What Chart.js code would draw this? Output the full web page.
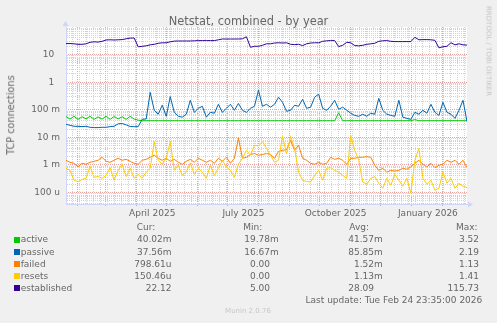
<!DOCTYPE html>
<html>
<head>
<meta charset="utf-8">
<title>Netstat, combined - by year</title>
<script src="https://cdn.jsdelivr.net/npm/chart.js@4.4.1/dist/chart.umd.min.js"></script>
<style>
  html, body { margin: 0; padding: 0; background: #F0F0F0; }
  #graph { position: relative; width: 497px; height: 323px; background: #F0F0F0; overflow: hidden;
           font-family: 'DejaVu Sans', sans-serif; color: #666666; }
  #graph canvas { position: absolute; left: 0; top: 0; }
  .txt { position: absolute; white-space: pre; line-height: 1; }
  .box { position: absolute; width: 6px; height: 6px; }
</style>
</head>
<body>
<div id="graph"><canvas id="chart" width="497" height="323"></canvas></div>
<script>
// ---- graph text ----
const graphTitle = 'Netstat, combined - by year';
const verticalLabel = 'TCP connections';
const lastUpdate = 'Last update: Tue Feb 24 23:35:00 2026';
const watermark = 'RRDTOOL / TOBI OETIKER';
const footer = 'Munin 2.0.76';

// ---- series ----
const seriesNames = ['active', 'passive', 'failed', 'resets', 'established'];
const seriesColors = ['#00CC00', '#0066B3', '#FF8000', '#FFCC00', '#330099'];

// samples: first one on day 20 of 2025 (days counted from 2025-01-01), one every 4 days
const firstDay = 20;
const sampleStep = 4;

const active = [
  0.057, 0.046, 0.058, 0.045, 0.056, 0.047, 0.058, 0.045, 0.055, 0.046,
  0.059, 0.045, 0.057, 0.047, 0.056, 0.045, 0.058, 0.046, 0.042, 0.0402,
  0.0402, 0.0402, 0.0402, 0.0402, 0.0402, 0.0402, 0.0402, 0.0402, 0.0402, 0.0402,
  0.0402, 0.0402, 0.0402, 0.0402, 0.0402, 0.0402, 0.0402, 0.0402, 0.0402, 0.0402,
  0.0402, 0.0402, 0.0402, 0.0402, 0.0402, 0.0402, 0.0402, 0.0402, 0.0402, 0.0402,
  0.0402, 0.0402, 0.0402, 0.0402, 0.0402, 0.0402, 0.0402, 0.0402, 0.0402, 0.0402,
  0.0402, 0.0402, 0.0402, 0.0402, 0.0402, 0.0402, 0.0402, 0.0402, 0.078, 0.0402,
  0.0402, 0.0402, 0.0402, 0.0402, 0.0402, 0.0402, 0.0402, 0.0402, 0.0402, 0.0402,
  0.0402, 0.0402, 0.0402, 0.0402, 0.0402, 0.0402, 0.0402, 0.044, 0.0402, 0.0402,
  0.0402, 0.0402, 0.0402, 0.0402, 0.0402, 0.0402, 0.0402, 0.0402, 0.0402, 0.0402,
  0.04002
];

const passive = [
  0.0298, 0.0274, 0.0252, 0.0252, 0.0245, 0.0252, 0.0232, 0.0226, 0.0226, 0.0232,
  0.0232, 0.0245, 0.0252, 0.0310, 0.0318, 0.0285, 0.0247, 0.0245, 0.0245, 0.0453,
  0.0465, 0.43, 0.096, 0.069, 0.146, 0.058, 0.30, 0.081, 0.058, 0.054,
  0.069, 0.221, 0.081, 0.113, 0.134, 0.054, 0.081, 0.075, 0.158, 0.081,
  0.113, 0.158, 0.096, 0.17, 0.096, 0.081, 0.113, 0.134, 0.51, 0.134,
  0.158, 0.124, 0.158, 0.284, 0.187, 0.088, 0.096, 0.146, 0.134, 0.24,
  0.113, 0.124, 0.284, 0.37, 0.113, 0.096, 0.134, 0.221, 0.104, 0.124,
  0.096, 0.075, 0.0626, 0.058, 0.069, 0.058, 0.075, 0.069, 0.26, 0.096,
  0.069, 0.0626, 0.058, 0.221, 0.054, 0.049, 0.045, 0.081, 0.069, 0.096,
  0.075, 0.158, 0.081, 0.0626, 0.187, 0.081, 0.069, 0.049, 0.096, 0.22,
  0.03756
];

const failed = [
  1.48e-3, 1.25e-3, 1.15e-3, 0.85e-3, 1.15e-3, 1.06e-3, 1.25e-3, 1.36e-3, 1.48e-3, 1.9e-3,
  1.36e-3, 1.25e-3, 1.48e-3, 1.75e-3, 1.48e-3, 1.6e-3, 1.36e-3, 1.15e-3, 1.06e-3, 1.48e-3,
  1.6e-3, 1.9e-3, 2.25e-3, 1.75e-3, 1.48e-3, 1.75e-3, 1.36e-3, 1.6e-3, 1.25e-3, 1.06e-3,
  1.36e-3, 1.6e-3, 1.25e-3, 1.75e-3, 1.48e-3, 1.25e-3, 1.48e-3, 1.15e-3, 1.75e-3, 1.36e-3,
  1.9e-3, 1.15e-3, 1.75e-3, 9.3e-3, 1.75e-3, 1.9e-3, 2.4e-3, 2.6e-3, 2.25e-3, 2.4e-3,
  2.6e-3, 2.4e-3, 1.75e-3, 3.1e-3, 3.4e-3, 3.6e-3, 7.8e-3, 3.4e-3, 5.2e-3, 1.75e-3,
  1.48e-3, 1.15e-3, 1.06e-3, 1.25e-3, 1.06e-3, 1.15e-3, 1.9e-3, 1.6e-3, 1.75e-3, 1.48e-3,
  1.06e-3, 1.75e-3, 1.75e-3, 1.9e-3, 1.9e-3, 2.0e-3, 1.9e-3, 0.975e-3, 0.64e-3, 0.76e-3,
  0.55e-3, 0.64e-3, 0.6e-3, 0.64e-3, 0.76e-3, 0.7e-3, 0.85e-3, 1.15e-3, 1.48e-3, 1.06e-3,
  0.85e-3, 1.15e-3, 0.8e-3, 0.975e-3, 1.06e-3, 1.48e-3, 1.25e-3, 1.48e-3, 1.06e-3, 1.48e-3,
  0.79861e-3
];

const resets = [
  0.76e-3, 0.64e-3, 0.28e-3, 0.25e-3, 0.30e-3, 0.33e-3, 0.9e-3, 0.36e-3, 0.38e-3, 0.33e-3,
  0.42e-3, 0.8e-3, 0.28e-3, 0.64e-3, 1.06e-3, 0.38e-3, 0.76e-3, 0.33e-3, 0.46e-3, 0.33e-3,
  0.55e-3, 0.76e-3, 7.0e-3, 1.48e-3, 1.06e-3, 1.75e-3, 7.0e-3, 0.64e-3, 0.975e-3, 0.42e-3,
  0.55e-3, 1.2e-3, 0.46e-3, 0.76e-3, 0.55e-3, 0.33e-3, 0.975e-3, 0.42e-3, 0.76e-3, 1.48e-3,
  0.85e-3, 0.64e-3, 0.36e-3, 1.06e-3, 1.75e-3, 3.4e-3, 2.25e-3, 5.2e-3, 4.9e-3, 7.0e-3,
  4.0e-3, 2.25e-3, 1.25e-3, 1.48e-3, 11e-3, 2.5e-3, 11e-3, 4.0e-3, 0.55e-3, 0.28e-3,
  0.25e-3, 0.24e-3, 0.42e-3, 0.64e-3, 0.28e-3, 0.76e-3, 0.8e-3, 0.64e-3, 0.55e-3, 0.42e-3,
  0.33e-3, 11.9e-3, 3.4e-3, 1.48e-3, 0.24e-3, 0.2e-3, 0.33e-3, 0.38e-3, 0.217e-3, 0.143e-3,
  0.33e-3, 0.184e-3, 0.46e-3, 0.28e-3, 0.17e-3, 0.33e-3, 0.094e-3, 1.48e-3, 4.0e-3, 0.33e-3,
  0.2e-3, 0.28e-3, 0.121e-3, 0.143e-3, 0.55e-3, 0.217e-3, 0.33e-3, 0.143e-3, 0.217e-3, 0.17e-3,
  0.15046e-3
];

const established = [
  25.1, 25.1, 24.6, 23.6, 23.6, 24.6, 27.9, 29.1, 28.4, 30.3,
  33.8, 34.4, 33.8, 34.4, 34.9, 37.3, 39.6, 39.9, 19.2, 20.0,
  20.8, 22.6, 23.6, 25.7, 26.8, 26.8, 29.1, 30.8, 31.1, 31.1,
  31.1, 31.1, 31.6, 32.2, 32.2, 32.2, 32.2, 32.2, 34.4, 36.7,
  36.7, 36.7, 36.7, 36.7, 37.3, 44.2, 18.4, 20.0, 20.0, 21.7,
  24.6, 24.6, 26.3, 26.8, 26.3, 26.8, 23.6, 23.0, 23.6, 21.2,
  24.6, 26.3, 26.8, 26.8, 30.3, 31.6, 32.2, 32.2, 19.5, 21.7,
  27.9, 26.8, 21.2, 20.8, 21.7, 23.6, 24.6, 25.7, 30.3, 31.6,
  32.2, 30.3, 29.6, 29.6, 29.6, 29.6, 29.6, 42.4, 34.4, 34.9,
  34.9, 34.4, 33.0, 17.6, 19.2, 20.0, 26.8, 22.6, 24.6, 22.6,
  22.12
];

const seriesValues = [active, passive, failed, resets, established];

// ---- legend figures ----
const legendHeaders = ['Cur:', 'Min:', 'Avg:', 'Max:'];
const curText = ['40.02m', '37.56m', '798.61u', '150.46u', '22.12'];
const minText = ['19.78m', '16.67m', '0.00', '0.00', '5.00'];
const avgText = ['41.57m', '85.85m', '1.52m', '1.13m', '28.09'];
const maxText = ['3.52', '2.19', '1.13', '1.41', '115.73'];

// ---- axes ----
const xMin = 20, xMax = 420;                 // days since 2025-01-01
const xLabelDays = [106, 197, 289, 381];
const xLabelText = ['April 2025', 'July 2025', 'October 2025', 'January 2026'];
const monthStarts = [31, 59, 90, 120, 151, 181, 212, 243, 273, 304, 334, 365, 396];
const firstMonday = 26;
const yMin = 3.85e-5, yMax = 100;
const yDecades = [1e-4, 1e-3, 1e-2, 1e-1, 1, 10];
const yDecadeText = ['100 u', '1 m', '10 m', '100 m', '1  ', '10  '];

const FONT_COLOR = '#666666';
const AXIS_COLOR = '#CFD6F8';
const MINOR_GRID = '#D2D2D2';
const MAJOR_GRID = '#E6A3A3';
const CLEAR = 'rgba(0,0,0,0)';

const days = active.map((_, i) => firstDay + i * sampleStep);

const weekStarts = [];
for (let d = firstMonday; d <= xMax; d += 7) weekStarts.push(d);

const yMinorTicks = [];
for (let e = -5; e <= 1; e++) {
  for (let m = 1; m <= 9; m++) {
    const v = m * Math.pow(10, e);
    if (v >= yMin && v <= yMax) yMinorTicks.push(v);
  }
}
const isDecade = v => Math.abs(Math.log10(v) - Math.round(Math.log10(v))) < 1e-9;

const plotBackground = {
  id: 'plotBackground',
  beforeDraw(chart) {
    const { ctx, chartArea: a } = chart;
    ctx.save();
    ctx.fillStyle = '#FFFFFF';
    ctx.fillRect(a.left, a.top, a.right - a.left, a.bottom - a.top);
    ctx.restore();
  }
};

const axisArrows = {
  id: 'axisArrows',
  afterDraw(chart) {
    const { ctx, chartArea: a } = chart;
    const yb = Math.round(a.bottom) + 0.5;
    const xl = Math.round(a.left) - 0.5;
    ctx.save();
    ctx.strokeStyle = AXIS_COLOR;
    ctx.fillStyle = AXIS_COLOR;
    ctx.lineWidth = 1;
    ctx.beginPath();
    ctx.moveTo(a.right, yb); ctx.lineTo(a.right + 3, yb);
    ctx.moveTo(xl, a.top); ctx.lineTo(xl, a.top - 3);
    ctx.stroke();
    ctx.beginPath();
    ctx.moveTo(a.right + 1, yb - 3); ctx.lineTo(a.right + 6, yb); ctx.lineTo(a.right + 1, yb + 3);
    ctx.closePath(); ctx.fill();
    ctx.beginPath();
    ctx.moveTo(xl - 3, a.top - 1); ctx.lineTo(xl, a.top - 6); ctx.lineTo(xl + 3, a.top - 1);
    ctx.closePath(); ctx.fill();
    ctx.restore();
  }
};

Chart.defaults.font.family = "'DejaVu Sans', sans-serif";
Chart.defaults.font.size = 9;
Chart.defaults.color = FONT_COLOR;

new Chart(document.getElementById('chart'), {
  type: 'line',
  data: {
    datasets: seriesNames.map((name, i) => ({
      label: name,
      data: days.map((d, j) => ({ x: d, y: seriesValues[i][j] })),
      borderColor: seriesColors[i],
      backgroundColor: seriesColors[i],
      borderWidth: 1,
      pointRadius: 0,
      tension: 0,
      fill: false,
      order: seriesNames.length - i,
      xAxisID: 'x',
      yAxisID: 'y'
    }))
  },
  options: {
    responsive: false,
    animation: false,
    devicePixelRatio: 1,
    events: [],
    layout: { padding: { left: 0, right: 30, top: 27, bottom: 99 } },
    plugins: { legend: { display: false }, tooltip: { enabled: false }, title: { display: false } },
    scales: {
      x: {
        type: 'linear', axis: 'x', position: 'bottom', min: xMin, max: xMax, weight: 1,
        afterBuildTicks: s => { s.ticks = xLabelDays.map(v => ({ value: v })); },
        afterFit: s => { s.height = 20; },
        ticks: { autoSkip: false, maxRotation: 0, padding: 4, color: FONT_COLOR,
                 callback: (v, i) => xLabelText[i] },
        grid: { display: false, drawTicks: false },
        border: { display: true, color: AXIS_COLOR, width: 1 }
      },
      xWeek: {
        type: 'linear', axis: 'x', position: 'bottom', min: xMin, max: xMax, weight: 0,
        afterBuildTicks: s => { s.ticks = weekStarts.map(v => ({ value: v })); },
        afterFit: s => { s.height = 0; },
        ticks: { display: false },
        grid: { color: c => (c.tick && monthStarts.includes(c.tick.value)) ? CLEAR : MINOR_GRID,
                lineWidth: 1, drawTicks: false },
        border: { display: false, dash: [1, 1] }
      },
      xMonth: {
        type: 'linear', axis: 'x', position: 'bottom', min: xMin, max: xMax, weight: 0,
        afterBuildTicks: s => { s.ticks = monthStarts.map(v => ({ value: v })); },
        afterFit: s => { s.height = 0; },
        ticks: { display: false },
        grid: { color: MAJOR_GRID, lineWidth: 1, drawTicks: true, tickLength: 2, tickColor: MAJOR_GRID },
        border: { display: false, dash: [1, 1] }
      },
      y: {
        type: 'logarithmic', axis: 'y', position: 'left', min: yMin, max: yMax, weight: 1,
        afterBuildTicks: s => { s.ticks = yMinorTicks.map(v => ({ value: v })); },
        afterFit: s => { s.width = 66; },
        ticks: { autoSkip: false, padding: 6, color: FONT_COLOR,
                 callback: v => { const k = yDecades.findIndex(d => Math.abs(d - v) / d < 1e-9); return k >= 0 ? yDecadeText[k] : ''; } },
        grid: { color: c => (c.tick && isDecade(c.tick.value)) ? CLEAR : MINOR_GRID, lineWidth: 1, drawTicks: false },
        border: { display: true, color: AXIS_COLOR, width: 1, dash: [1, 1] }
      },
      yDecade: {
        type: 'logarithmic', axis: 'y', position: 'left', min: yMin, max: yMax, weight: 0,
        afterBuildTicks: s => { s.ticks = yDecades.map(v => ({ value: v })); },
        afterFit: s => { s.width = 0; },
        ticks: { display: false },
        grid: { color: MAJOR_GRID, lineWidth: 1, drawTicks: false },
        border: { display: false, dash: [1, 1] }
      }
    }
  },
  plugins: [plotBackground, axisArrows]
});

// ---- text around the plot ----
const graph = document.getElementById('graph');
const BASE = 0.846; // baseline offset of DejaVu Sans with line-height 1

function addText(str, size, x, baseline, align, color) {
  const el = document.createElement('div');
  el.className = 'txt';
  el.textContent = str;
  el.style.fontSize = size + 'px';
  el.style.top = (baseline - BASE * size) + 'px';
  if (align === 'right') {
    el.style.right = (497 - x) + 'px';
  } else if (align === 'center') {
    el.style.left = (x - 200) + 'px';
    el.style.width = '400px';
    el.style.textAlign = 'center';
  } else {
    el.style.left = x + 'px';
  }
  if (color) el.style.color = color;
  graph.appendChild(el);
  return el;
}

function addRotated(str, size, cx, cy, angle, color) {
  const el = document.createElement('div');
  el.className = 'txt';
  el.textContent = str;
  el.style.fontSize = size + 'px';
  el.style.left = cx + 'px';
  el.style.top = cy + 'px';
  el.style.transform = 'translate(-50%, -50%) rotate(' + angle + 'deg)';
  if (color) el.style.color = color;
  graph.appendChild(el);
}

addText(graphTitle, 11.4, 248.5, 25.5, 'center');
addRotated(verticalLabel, 9.7, 11.4, 114.5, -90);
addRotated(watermark, 7, 487.7, 51, 90, '#C4C4C4');

// legend table
const headerX = [136.7, 243.3, 349.3, 456];
const headerBaseline = 230.5;
legendHeaders.forEach((h, i) => addText(h, 9, headerX[i], headerBaseline, 'left'));

const rowBaselines = [243, 255.2, 267.3, 279.5, 291.6];
const curRight = 171.5;
const numberRight = [270, 374, 479];
const splitUnit = s => /[a-zA-Z]$/.test(s) ? [s.slice(0, -1), s.slice(-1)] : [s, ''];

seriesNames.forEach((name, i) => {
  const b = rowBaselines[i];
  const box = document.createElement('div');
  box.className = 'box';
  box.style.left = '14px';
  box.style.top = (b - 6.5) + 'px';
  box.style.background = seriesColors[i];
  graph.appendChild(box);
  addText(name, 9, 20.7, b, 'left');
  addText(curText[i], 9, curRight, b, 'right');
  [minText[i], avgText[i], maxText[i]].forEach((t, c) => {
    const [num, unit] = splitUnit(t);
    addText(num, 9, numberRight[c], b, 'right');
    if (unit) addText(unit, 9, numberRight[c], b, 'left');
  });
});

addText(lastUpdate, 9, 482.3, 303.5, 'right');
addText(footer, 7, 248, 314, 'center', '#C8C8C8');
</script>
</body>
</html>
